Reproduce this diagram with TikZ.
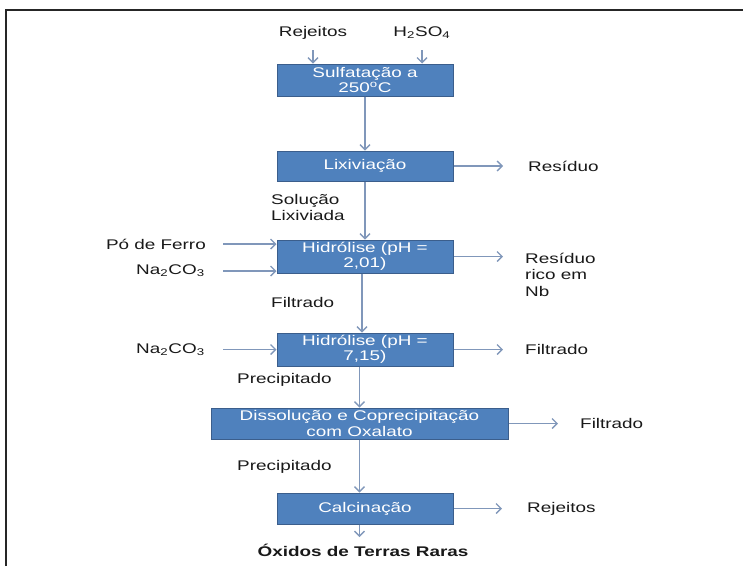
\documentclass[tikz,border=0pt]{standalone}
\usepackage{graphicx}
\usepackage{fontspec}
\setmainfont{Liberation Sans}
\usetikzlibrary{arrows.meta}
\definecolor{boxfill}{HTML}{4F81BD}
\definecolor{boxline}{HTML}{3B5E8C}
\definecolor{arr}{HTML}{8097BA}
\newcommand{\sx}[1]{\scalebox{1.35}[1]{#1}}
\begin{document}
\begin{tikzpicture}[x=1pt,y=-1pt,
  stepbox/.style={draw=boxline, fill=boxfill, line width=1pt, text=white, inner sep=0pt,
    align=center, font=\fontsize{14}{15.5}\selectfont, minimum width=176pt},
  lbl/.style={inner sep=0pt, font=\fontsize{14}{16.5}\selectfont, text=black!90},
  flow/.style={draw=arr, line width=1.5pt, -{Straight Barb[length=5pt,width=10pt,line width=1.3pt]}}]
\useasboundingbox (0,0) rectangle (743,566);
\draw[line width=2.5pt, black!85] (6,566) -- (6,10) -- (743,10);

% process boxes
\node[stepbox, minimum height=32pt] (s) at (365,80) {\sx{Sulfatação a}\\\sx{250\textsuperscript{o}C}};
\node[stepbox, minimum height=30pt] (l) at (365,166) {\sx{Lixiviação}};
\node[stepbox, minimum height=33pt] (h1) at (365,256.5) {\sx{Hidrólise (pH =}\\\sx{2,01)}};
\node[stepbox, minimum height=33pt] (h2) at (365,349.5) {\sx{Hidrólise (pH =}\\\sx{7,15)}};
\node[stepbox, minimum height=31pt, minimum width=297pt] (d) at (359.5,423.5) {\sx{Dissolução e Coprecipitação}\\\sx{com Oxalato}};
\node[stepbox, minimum height=31pt] (c) at (365,508.5) {\sx{Calcinação}};

% top inputs
\node[lbl] (rej) at (313,33) {\sx{Rejeitos}};
\node[lbl] (acid) at (422,33) {\sx{H\textsubscript{2}SO\textsubscript{4}}};
\coordinate (rt) at (313,50);
\coordinate (at) at (422,50);
\draw[flow] (rt) -- (rt |- s.north);
\draw[flow] (at) -- (at |- s.north);

% left inputs
\node[lbl, anchor=east] (pf) at (206,244) {\sx{Pó de Ferro}};
\node[lbl, anchor=east] (na1) at (205,271) {\sx{Na\textsubscript{2}CO\textsubscript{3}}};
\node[lbl, anchor=east] (na2) at (205,349.5) {\sx{Na\textsubscript{2}CO\textsubscript{3}}};
\draw[flow] ([xshift=17pt]pf.east) -- (pf.east -| h1.west);
\draw[flow] ([xshift=18pt]na1.east) -- (na1.east -| h1.west);
\draw[flow] ([xshift=18pt]na2.east) -- (na2.east -| h2.west);

% right outputs
\node[lbl, anchor=west] (r1) at (528,166) {\sx{Resíduo}};
\draw[flow] (l.east) -- ([xshift=-25pt]r1.west);
\node[lbl, anchor=west, align=left] (r2) at (525,274.5) {\sx{Resíduo}\\\sx{rico em}\\\sx{Nb}};
\coordinate (e2) at (503,256.5);
\draw[flow] (h1.east) -- (e2);
\node[lbl, anchor=west] (f2) at (525,349.5) {\sx{Filtrado}};
\draw[flow] (h2.east) -- ([xshift=-22pt]f2.west);
\node[lbl, anchor=west] (f3) at (580,423.5) {\sx{Filtrado}};
\draw[flow] (d.east) -- ([xshift=-22pt]f3.west);
\node[lbl, anchor=west] (rj2) at (527,508.5) {\sx{Rejeitos}};
\draw[flow] (c.east) -- ([xshift=-25pt]rj2.west);

% stream labels
\node[lbl, anchor=west, align=left] (sol) at (271,207.5) {\sx{Solução}\\\sx{Lixiviada}};
\node[lbl, anchor=west] (fil) at (271,302.5) {\sx{Filtrado}};
\node[lbl, anchor=west] (p1) at (237,380) {\sx{Precipitado}};
\node[lbl, anchor=west] (p2) at (237,467) {\sx{Precipitado}};
\node[lbl, font=\fontsize{14}{16.5}\selectfont\bfseries] (ox) at (363,550) {\sx{Óxidos de Terras Raras}};

% main flow
\draw[flow] (s.south) -- (l.north);
\draw[flow] (l.south) -- (h1.north);
\draw[flow] ([xshift=-3pt]h1.south) -- ([xshift=-3pt]h2.north);
\draw[flow] (d.north |- h2.south) -- (d.north);
\draw[flow] (d.south) -- (d.south |- c.north);
\coordinate (oe) at (359.5,537);
\draw[flow] (oe |- c.south) -- (oe);
\end{tikzpicture}
\end{document}
